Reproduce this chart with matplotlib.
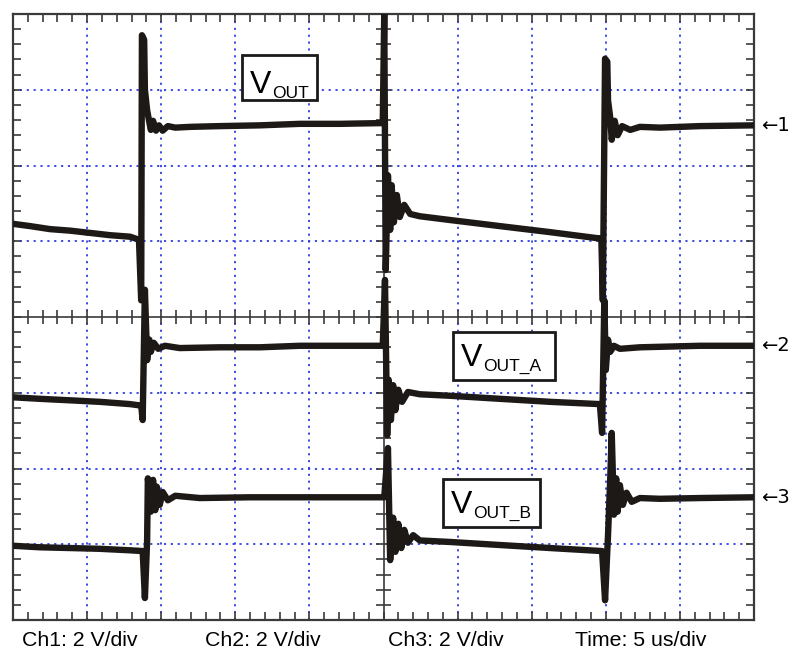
import numpy as np
import matplotlib
matplotlib.use("Agg")
import matplotlib.pyplot as plt
from matplotlib.patches import Rectangle

plt.rcParams['font.family'] = ['Liberation Sans', 'DejaVu Sans']

# ---- data (screen divisions: x 0..10, y -4..4; 5 us/div, 2 V/div) ----
ch1_t = [0, 0.23, 0.50, 0.77, 1.04, 1.31, 1.58, 1.70, 1.73, 1.74, 1.77, 1.78, 1.81, 1.84, 1.86, 1.89, 1.93,
         1.97, 2.02, 2.09, 2.19, 2.39, 2.79, 3.33, 3.87, 4.41, 4.99,
         5.01, 5.03, 5.06, 5.09, 5.11, 5.14, 5.18, 5.22, 5.28, 5.36, 5.49, 5.90, 6.57, 7.25, 7.89,
         7.94, 7.96, 7.99, 8.02, 8.03, 8.06, 8.08, 8.12, 8.16, 8.22, 8.33, 8.46, 8.73, 9.27, 10.0]
ch1_v = [1.23, 1.20, 1.16, 1.14, 1.11, 1.08, 1.06, 1.02, 0.22, 3.72, 3.66, 3.00, 2.73, 2.57, 2.47, 2.59, 2.46,
         2.53, 2.46, 2.52, 2.50, 2.51, 2.52, 2.53, 2.55, 2.55, 2.56,
         4.00, 0.62, 1.87, 1.15, 1.74, 1.25, 1.61, 1.32, 1.48, 1.36, 1.33, 1.28, 1.20, 1.12, 1.04,
         1.04, 0.22, 3.41, 3.37, 2.86, 2.63, 2.34, 2.59, 2.40, 2.52, 2.47, 2.51, 2.50, 2.52, 2.53]

ch2_t = [0, 0.36, 0.77, 1.17, 1.58, 1.73, 1.75, 1.78, 1.81, 1.84, 1.86, 1.90, 1.96, 2.05, 2.25, 2.79, 3.33,
         3.87, 4.41, 4.99, 5.02, 5.05, 5.07, 5.10, 5.13, 5.16, 5.20, 5.25, 5.33, 5.49, 5.90, 6.57, 7.25, 7.92,
         7.95, 7.98, 8.00, 8.03, 8.06, 8.11, 8.19, 8.46, 9.27, 10.0]
ch2_v = [-1.06, -1.08, -1.10, -1.12, -1.15, -1.17, -1.36, 0.36, -0.57, -0.30, -0.46, -0.34, -0.42, -0.38, -0.41,
         -0.40, -0.40, -0.38, -0.38, -0.38, 0.49, -1.56, -0.83, -1.36, -0.90, -1.23, -0.96, -1.12, -0.99, -1.02,
         -1.04, -1.08, -1.12, -1.15, -1.53, 0.22, -0.70, -0.30, -0.46, -0.38, -0.42, -0.40, -0.38, -0.38]

ch3_t = [0, 0.36, 0.77, 1.17, 1.58, 1.75, 1.78, 1.81, 1.82, 1.85, 1.86, 1.89, 1.92, 1.94, 1.98, 2.02, 2.09,
         2.19, 2.52, 3.20, 3.87, 4.41, 4.99, 5.01, 5.06, 5.09, 5.13, 5.16, 5.20, 5.24, 5.28, 5.33, 5.40, 5.49,
         5.90, 6.57, 7.25, 7.95, 7.99, 8.03, 8.06, 8.08, 8.11, 8.14, 8.16, 8.19, 8.23, 8.28, 8.35, 8.46,
         8.73, 9.27, 10.0]
ch3_v = [-3.02, -3.04, -3.05, -3.06, -3.08, -3.09, -3.71, -2.95, -2.13, -2.42, -2.57, -2.15, -2.55, -2.24,
         -2.48, -2.31, -2.42, -2.36, -2.39, -2.38, -2.38, -2.38, -2.38, -2.38, -1.73, -3.21, -2.65, -3.10,
         -2.73, -3.05, -2.81, -2.98, -2.88, -2.95, -2.97, -3.01, -3.05, -3.09, -3.74, -2.88, -2.13, -1.53,
         -2.61, -2.13, -2.57, -2.22, -2.48, -2.32, -2.44, -2.39, -2.40, -2.39, -2.38]

traces = [(ch1_t, ch1_v), (ch2_t, ch2_v), (ch3_t, ch3_v)]

labels = ["V", "V", "V"]
sublabels = ["OUT", "OUT_A", "OUT_B"]
marker_labels = ["\u21901", "\u21902", "\u21903"]
marker_levels = [2.53, -0.38, -2.38]
footer = ["Ch1: 2 V/div", "Ch2: 2 V/div", "Ch3: 2 V/div", "Time: 5 us/div"]

# ---- figure ----
W, H = 790, 650
fig = plt.figure(figsize=(W / 100, H / 100), dpi=100)
x0, x1, y0, y1 = 13, 754, 14, 620
ax = fig.add_axes([x0 / W, 1 - y1 / H, (x1 - x0) / W, (y1 - y0) / H])
ax.set_xlim(0, 10)
ax.set_ylim(-4, 4)

frame_col = '#3a3a3a'
for s in ax.spines.values():
    s.set_color(frame_col)
    s.set_linewidth(1.6)

ax.set_xticks(np.arange(0, 10.001, 0.2))
ax.set_yticks(np.arange(-4, 4.001, 0.2))
ax.tick_params(which='both', direction='in', top=True, right=True, length=5.5, width=1.2,
               color=frame_col, labelbottom=False, labelleft=False)

grid_col = '#2f3fe0'
for gx in [1, 2, 3, 4, 6, 7, 8, 9]:
    ax.axvline(gx, color=grid_col, lw=1.3, ls=(0, (1.2, 2.6)), zorder=1)
for gy in [-3, -2, -1, 1, 2, 3]:
    ax.axhline(gy, color=grid_col, lw=1.3, ls=(0, (1.2, 2.6)), zorder=1)

# centre crosshair with tick marks
ax.axvline(5, color=frame_col, lw=1.2, zorder=2)
ax.axhline(0, color=frame_col, lw=1.2, zorder=2)
tx = np.arange(0.2, 10, 0.2)
ty = np.arange(-3.8, 4, 0.2)
ax.vlines(tx, -0.095, 0.095, color=frame_col, lw=1.2, zorder=2)
ax.hlines(ty, 5 - 0.095, 5 + 0.095, color=frame_col, lw=1.2, zorder=2)

trace_col = '#1d1917'
for t, v in traces:
    ax.plot(t, v, color=trace_col, lw=4.6, solid_joinstyle='round', solid_capstyle='round',
            zorder=5, clip_on=True)

# labels in boxes (pixel positions)
boxes = [(242, 55, 317, 100), (453, 332, 555, 380), (443, 479, 540, 527)]
vpos = [(250, 93), (461, 366), (451, 513)]
for (bx0, by0, bx1, by1), (vx, vy), main, sub in zip(boxes, vpos, labels, sublabels):
    ax.add_patch(Rectangle((bx0 / W, 1 - by1 / H), (bx1 - bx0) / W, (by1 - by0) / H,
                           transform=fig.transFigure, fill=True, facecolor='white',
                           edgecolor='#1a1a1a', lw=2.0, zorder=10, clip_on=False))
    tv = ax.text(vx / W, 1 - vy / H, main, fontsize=23, ha='left', va='baseline', zorder=11,
                 transform=fig.transFigure)
    ax.annotate(sub, xy=(1, 0), xycoords=tv, xytext=(0.3, -0.5), textcoords='offset points',
                fontsize=12.5, ha='left', va='bottom', zorder=11, annotation_clip=False)

for lab, lev in zip(marker_labels, marker_levels):
    py = y0 + (4 - lev) * (y1 - y0) / 8
    fig.text(761 / W, 1 - py / H, lab, fontsize=14, ha='left', va='center',
             family=['DejaVu Sans'])

for txt, px in zip(footer, [22, 205, 388, 575]):
    fig.text(px / W, 1 - 640 / H, txt, fontsize=15.3, ha='left', va='center')

fig.savefig('out.png', dpi=100)
